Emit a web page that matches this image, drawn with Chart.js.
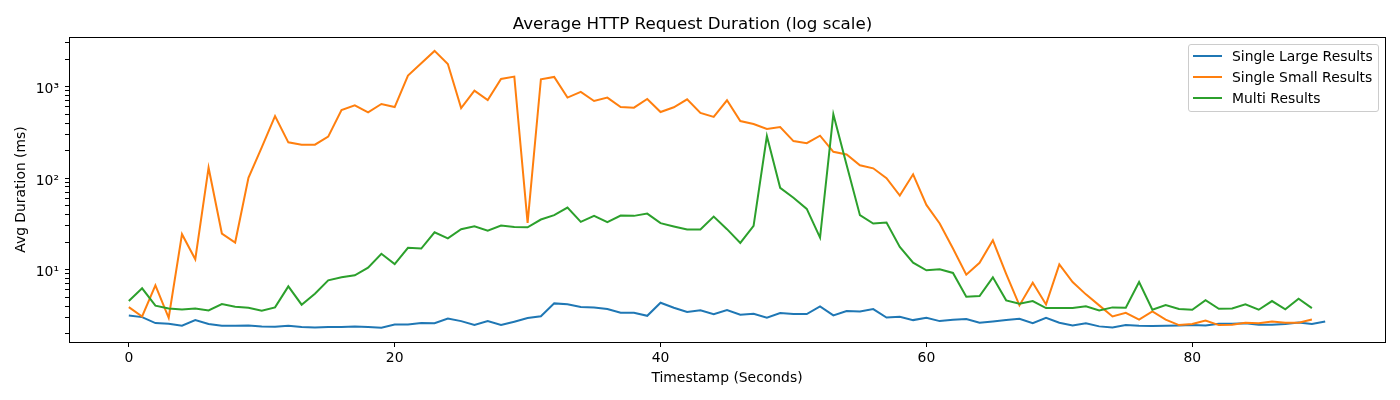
<!DOCTYPE html>
<html>
<head>
<meta charset="utf-8">
<script src="https://cdn.jsdelivr.net/npm/chart.js@4.4.1/dist/chart.umd.min.js"></script>
<style>
    body { margin: 0; background: #fff; }
    #wrap { position: relative; width: 1400px; height: 400px; }
    #legend {
        position: absolute; left: 1188px; top: 44px; width: 191px; height: 68px;
        box-sizing: border-box; border: 1px solid #cccccc; border-radius: 3px;
        background: rgba(255, 255, 255, 0.8);
        font-family: 'DejaVu Sans', sans-serif; font-size: 13.9px; color: #000;
    }
    .item { position: absolute; left: 0; height: 20px; line-height: 20px; white-space: nowrap; }
    .swatch { position: absolute; left: 4px; top: 9px; width: 29px; height: 2px; }
    .label { position: absolute; left: 43px; top: 0; }
</style>
</head>
<body>
<div id="wrap">
    <canvas id="chart" width="1400" height="400"></canvas>
    <div id="legend"></div>
</div>
<script>
// --- Data (ms, one value per second) ---
const seriesNames = ['Single Large Results', 'Single Small Results', 'Multi Results'];
const seriesColors = ['#1f77b4', '#ff7f0e', '#2ca02c'];

const singleLarge = [
    3.16, 3.03, 2.61, 2.57, 2.44, 2.81, 2.55, 2.44, 2.44, 2.46,
    2.40, 2.38, 2.44, 2.36, 2.34, 2.37, 2.37, 2.39, 2.37, 2.32,
    2.52, 2.52, 2.62, 2.60, 2.93, 2.74, 2.48, 2.74, 2.48, 2.70,
    2.96, 3.09, 4.28, 4.18, 3.90, 3.87, 3.71, 3.38, 3.38, 3.13,
    4.35, 3.84, 3.44, 3.59, 3.25, 3.62, 3.22, 3.30, 2.98, 3.35,
    3.27, 3.27, 3.97, 3.16, 3.53, 3.50, 3.71, 3.00, 3.06, 2.81,
    2.98, 2.74, 2.84, 2.89, 2.63, 2.72, 2.81, 2.91, 2.60, 2.98,
    2.63, 2.46, 2.59, 2.40, 2.34, 2.48, 2.44, 2.42, 2.44, 2.46,
    2.48, 2.46, 2.57, 2.57, 2.60, 2.50, 2.50, 2.55, 2.65, 2.55,
    2.72
];

const singleSmall = [
    3.90, 3.08, 6.73, 2.98, 24.4, 13.0, 130, 24.8, 19.8, 101,
    217, 477, 246, 232, 232, 284, 555, 625, 524, 646,
    598, 1320, 1800, 2455, 1770, 583, 903, 714, 1213, 1286,
    32.4, 1203, 1276, 759, 875, 697, 759, 598, 589, 733,
    528, 594, 727, 515, 466, 708, 421, 390, 344, 361,
    254, 241, 291, 194, 181, 138, 128, 100, 64.6, 110,
    51, 31.9, 17.0, 8.81, 11.9, 20.9, 9.0, 4.07, 7.21, 4.17,
    11.4, 7.33, 5.37, 4.07, 3.08, 3.38, 2.84, 3.50, 2.84, 2.48,
    2.55, 2.78, 2.48, 2.50, 2.63, 2.60, 2.72, 2.63, 2.63, 2.86
];

const multi = [
    4.54, 6.25, 4.04, 3.77, 3.68, 3.77, 3.59, 4.21, 3.94, 3.84,
    3.56, 3.87, 6.57, 4.14, 5.46, 7.64, 8.24, 8.67, 10.5, 14.9,
    11.5, 17.3, 17.0, 25.6, 22.0, 27.7, 29.8, 26.7, 30.3, 29.3,
    29.0, 35.3, 39.4, 47.7, 33.3, 38.7, 33.0, 39.0, 38.7, 41.0,
    32.2, 29.6, 27.4, 27.4, 38.0, 27.7, 19.6, 30.1, 288, 78.4,
    61, 46.1, 22.4, 498, 139, 39.4, 31.9, 32.7, 17.7, 11.9,
    9.84, 10.1, 9.2, 5.06, 5.14, 8.24, 4.62, 4.25, 4.54, 3.80,
    3.80, 3.80, 3.97, 3.59, 3.87, 3.84, 7.33, 3.65, 4.10, 3.71,
    3.65, 4.65, 3.74, 3.77, 4.18, 3.65, 4.54, 3.68, 4.81, 3.80
];

// --- Ticks ---
const xTicks = [0, 20, 40, 60, 80];
const yMajorTicks = [10, 100, 1000];
const yMajorLabels = ['10\u00b9', '10\u00b2', '10\u00b3'];
const yMinorTicks = [2, 3, 4, 5, 6, 7, 8, 9, 20, 30, 40, 50, 60, 70, 80, 90,
                     200, 300, 400, 500, 600, 700, 800, 900, 2000, 3000];

const FONT = "'DejaVu Sans', sans-serif";
Chart.defaults.color = '#000';
Chart.defaults.font.family = FONT;

const toPoints = (arr) => arr.map((v, i) => ({ x: i, y: v }));
const allSeries = [singleLarge, singleSmall, multi];

// box round the plot, like matplotlib spines
const framePlugin = {
    id: 'frame',
    afterDatasetsDraw(chart) {
        const { ctx, chartArea: a } = chart;
        const l = Math.round(a.left), t = Math.round(a.top);
        const r = Math.round(a.right), b = Math.round(a.bottom);
        ctx.save();
        ctx.strokeStyle = '#000';
        ctx.lineWidth = 1;
        ctx.strokeRect(l + 0.5, t + 0.5, r - l, b - t);
        ctx.restore();
    }
};

new Chart(document.getElementById('chart').getContext('2d'), {
    type: 'line',
    data: {
        datasets: allSeries.map((arr, i) => ({
            label: seriesNames[i],
            data: toPoints(arr),
            borderColor: seriesColors[i],
            backgroundColor: seriesColors[i],
            borderWidth: 2,
            pointRadius: 0,
            tension: 0,
            fill: false,
            order: allSeries.length - i
        }))
    },
    options: {
        responsive: false,
        animation: false,
        layout: { padding: { left: 0, right: 15, top: 0, bottom: 0 } },
        plugins: {
            legend: { display: false },
            tooltip: { enabled: false },
            title: {
                display: true,
                text: 'Average HTTP Request Duration (log scale)',
                font: { size: 16.7, weight: 'normal', family: FONT },
                color: '#000',
                padding: { top: 15, bottom: 2 }
            }
        },
        scales: {
            x: {
                type: 'linear',
                min: -4.5,
                max: 94.5,
                afterBuildTicks: (s) => { s.ticks = xTicks.map(v => ({ value: v })); },
                afterFit: (s) => { s.height = 58; },
                ticks: { font: { size: 13.9 }, padding: 3, maxRotation: 0, autoSkip: false },
                grid: { drawOnChartArea: false, drawTicks: true, tickLength: 5, color: '#000' },
                border: { display: false },
                title: {
                    display: true,
                    text: 'Timestamp (Seconds)',
                    font: { size: 13.9 },
                    padding: { top: 0, bottom: 13 }
                }
            },
            y: {
                type: 'logarithmic',
                min: 1.62,
                max: 3480,
                afterBuildTicks: (s) => {
                    s.ticks = yMajorTicks.concat(yMinorTicks).sort((a, b) => a - b).map(v => ({ value: v }));
                },
                afterFit: (s) => { s.width = 69; },
                ticks: {
                    font: { size: 13.9 },
                    padding: 6,
                    labelOffset: 3,
                    autoSkip: false,
                    callback: (v) => {
                        const k = yMajorTicks.indexOf(v);
                        return k >= 0 ? yMajorLabels[k] : '';
                    }
                },
                grid: { drawOnChartArea: false, drawTicks: true, tickLength: 4, color: '#000' },
                border: { display: false },
                title: {
                    display: true,
                    text: 'Avg Duration (ms)',
                    font: { size: 13.9 },
                    padding: { top: 13, bottom: 0 }
                }
            }
        }
    },
    plugins: [framePlugin]
});

// legend inside the plot, upper right
const legend = document.getElementById('legend');
seriesNames.forEach((name, i) => {
    const item = document.createElement('div');
    item.className = 'item';
    item.style.top = (1 + i * 21) + 'px';
    item.innerHTML = `<span class="swatch" style="background:${seriesColors[i]}"></span><span class="label">${name}</span>`;
    legend.appendChild(item);
});
</script>
</body>
</html>
